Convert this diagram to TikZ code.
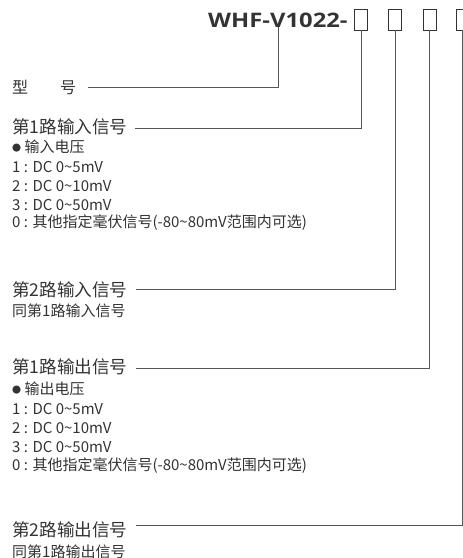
\documentclass[tikz,border=0pt]{standalone}
\usepackage{fontspec}
\setmainfont{Noto Sans CJK SC}
\newfontfamily\titlefont{Open Sans}
\definecolor{txt}{HTML}{333333}
\definecolor{ln}{HTML}{555555}
\tikzset{
  big/.style={anchor=west, inner sep=0pt, text=txt, font=\fontsize{17.6}{20}\selectfont},
  small/.style={anchor=west, inner sep=0pt, text=txt, font=\fontsize{15}{17}\selectfont},
  codebox/.style={draw=txt, line width=0.9pt, minimum width=13pt, minimum height=21pt, inner sep=0pt},
  conn/.style={draw=ln, line width=0.8pt},
}
\newcommand\mytilde{\textasciitilde}
\newcommand\mybullet{\raisebox{1.2pt}{\fontsize{9}{9}\selectfont ●}}
\begin{document}
\begin{tikzpicture}[x=1pt,y=-1pt]
\useasboundingbox (0,0) rectangle (463,558);
\clip (0,0) rectangle (463,558);
% title
\node[anchor=base west, inner sep=0pt, text=txt, font=\titlefont\bfseries\fontsize{20}{24}\selectfont] (title) at (208,27) {\scalebox{1.19}[1]{WHF-V1022-}};
\node[codebox] (b1) at (361,19.5) {};
\node[codebox] (b2) at (395,19.5) {};
\node[codebox] (b3) at (429.5,19.5) {};
\node[codebox] (b4) at (462.5,19.5) {};
\coordinate (v) at (278,27);
% labels
\node[big, font=\fontsize{16}{18}\selectfont] (type) at (12,87) {型\hspace{2em}号};
\node[big] (in1) at (12,127) {第1路输入信号};
\node[small] (in1a) at (12,147) {\mybullet\ 输入电压};
\node[small] (in1b) at (12,167) {1 : DC 0\mytilde 5mV};
\node[small] (in1c) at (12,186) {2 : DC 0\mytilde 10mV};
\node[small] (in1d) at (12,205) {3 : DC 0\mytilde 50mV};
\node[small] (in1e) at (12,223) {0 : 其他指定毫伏信号(-80\mytilde 80mV范围内可选)};
\node[big] (in2) at (12,290) {第2路输入信号};
\node[small] (in2a) at (12,311) {同第1路输入信号};
\node[big] (out1) at (12,367) {第1路输出信号};
\node[small] (out1a) at (12,389) {\mybullet\ 输出电压};
\node[small] (out1b) at (12,409) {1 : DC 0\mytilde 5mV};
\node[small] (out1c) at (12,428) {2 : DC 0\mytilde 10mV};
\node[small] (out1d) at (12,447) {3 : DC 0\mytilde 50mV};
\node[small] (out1e) at (12,466) {0 : 其他指定毫伏信号(-80\mytilde 80mV范围内可选)};
\node[big] (out2) at (12,530) {第2路输出信号};
\node[small] (out2a) at (12,552) {同第1路输出信号};
% line start points
\coordinate (s0) at (88,87);
\coordinate (s1) at (135,128.5);
\coordinate (s2) at (136,289);
\coordinate (s3) at (136,368);
\coordinate (s4) at (136,525);
\draw[conn] (s0) -| (v);
\draw[conn] (s1) -| (b1.south);
\draw[conn] (s2) -| (b2.south);
\draw[conn] (s3) -| (b3.south);
\draw[conn] (s4) -| (b4.south);
\end{tikzpicture}
\end{document}
